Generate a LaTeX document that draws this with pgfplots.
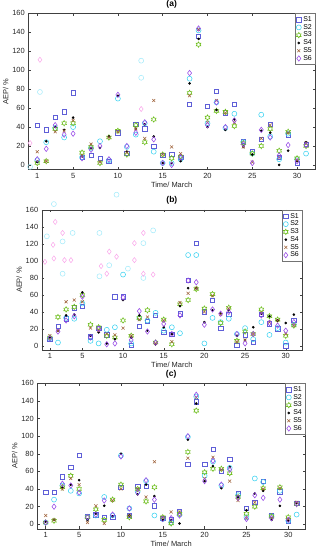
\documentclass[border=0pt]{standalone}
\usepackage{fontspec}
\setmainfont{Liberation Sans}
\usepackage{pgfplots}
\usepackage{pgfplotstable}
\pgfplotsset{compat=1.18}

\definecolor{cS1}{RGB}{95,95,215}
\definecolor{cS2}{RGB}{60,210,240}
\definecolor{cS3}{RGB}{110,190,30}
\definecolor{cS4}{RGB}{0,0,0}
\definecolor{cS5}{RGB}{160,100,60}
\definecolor{cS6}{RGB}{150,70,230}
\definecolor{ghc}{RGB}{165,235,250}
\definecolor{ghp}{RGB}{250,170,235}

\pgfdeclareplotmark{hexagram}{%
 \pgfpathmoveto{\pgfpointpolar{90}{\pgfplotmarksize}}%
 \pgfpathlineto{\pgfpointpolar{120}{0.577\pgfplotmarksize}}%
 \pgfpathlineto{\pgfpointpolar{150}{\pgfplotmarksize}}%
 \pgfpathlineto{\pgfpointpolar{180}{0.577\pgfplotmarksize}}%
 \pgfpathlineto{\pgfpointpolar{210}{\pgfplotmarksize}}%
 \pgfpathlineto{\pgfpointpolar{240}{0.577\pgfplotmarksize}}%
 \pgfpathlineto{\pgfpointpolar{270}{\pgfplotmarksize}}%
 \pgfpathlineto{\pgfpointpolar{300}{0.577\pgfplotmarksize}}%
 \pgfpathlineto{\pgfpointpolar{330}{\pgfplotmarksize}}%
 \pgfpathlineto{\pgfpointpolar{0}{0.577\pgfplotmarksize}}%
 \pgfpathlineto{\pgfpointpolar{30}{\pgfplotmarksize}}%
 \pgfpathlineto{\pgfpointpolar{60}{0.577\pgfplotmarksize}}%
 \pgfpathclose\pgfusepathqstroke}

\pgfplotstableread{
d S1 S2 S3 S4 S5 S6
1 42 5 2 3 14 6
2 37 24 4 25 4 17
3 50 39 38 40 35 42
4 56 29 44 37 36 32
5 76 40 44 50 47 33
6 8 8 13 9 10 7
7 10 18 19 18 22 16
8 7 25 2 18 3 20
9 4 5 29 30 29 6
10 34 70 36 73 35 74
11 12 19 11 14 13 20
12 43 32 42 38 38 34
13 38 44 24 43 28 45
14 20 14 48 30 68 27
15 10 2 11 2 11 2
16 11 2 7 2 19 0
17 8 6 9 4 12 8
18 64 91 76 86 73 97
19 136 142 127 133 143 144
20 62 44 50 40 45 42
21 78 66 57 58 68 66
22 55 39 56 37 55 40
23 64 54 41 48 45 47
24 25 24 23 19 19 22
25 14 12 12 11 3 2
26 27 53 20 36 28 37
27 43 30 38 34 42 29
28 8 6 15 0 8 10
29 32 33 35 15 34 21
30 2 6 7 4 5 4
31 22 12 20 24 23 21
}\tabA

\pgfplotstableread{
d S1 S2 S3 S4 S5 S6
1 8 9 10 10 12 9
2 23 4 34 18 18 17
3 32 33 43 36 52 30
4 45 32 46 37 54 35
5 47 50 60 63 52 58
6 11 6 25 12 21 10
7 21 3 22 16 18 20
8 13 19 12 3 14 2
9 58 22 10 8 13 3
10 58 84 30 54 21 57
11 1 3 12 10 12 7
12 23 33 33 36 31 41
13 29 30 42 18 34 17
14 36 39 4 2 3 4
15 16 18 31 22 30 26
16 14 22 2 14 5 14
17 38 15 49 47 51 36
18 77 107 54 68 62 77
19 121 107 67 68 68 75
20 40 3 44 28 40 25
21 54 33 61 42 59 43
22 21 28 27 38 37 38
23 37 32 45 42 44 40
24 1 14 6 12 5 14
25 13 21 17 7 7 3
26 4 8 14 22 14 14
27 37 28 43 38 39 36
28 26 13 35 35 28 27
29 20 21 31 30 30 24
30 0 4 12 27 14 18
31 30 25 24 37 24 28
}\tabB

\pgfplotstableread{
d S1 S2 S3 S4 S5 S6
1 36 2 2 3 10 2
2 36 28 4 5 5 20
3 54 44 42 42 40 46
4 65 38 55 45 52 44
5 78 35 40 50 45 36
6 9 8 8 5 2 8
7 11 10 17 12 21 11
8 8 31 5 21 1 27
9 8 10 28 9 27 11
10 42 78 45 80 40 77
11 10 18 8 10 10 18
12 43 37 40 34 40 36
13 43 49 26 45 31 50
14 21 10 42 32 71 28
15 7 6 8 5 8 6
16 5 2 1 5 14 7
17 15 11 12 1 14 10
18 68 99 82 96 75 100
19 139 145 129 137 144 147
20 68 55 59 49 52 49
21 85 71 63 66 76 72
22 60 44 63 41 62 45
23 74 64 58 65 49 62
24 35 33 31 31 27 30
25 18 8 12 16 7 6
26 25 52 20 35 25 33
27 49 48 41 38 40 30
28 10 9 9 5 7 7
29 37 38 42 21 41 28
30 4 4 8 4 6 5
31 24 11 23 24 25 23
}\tabC

% faint ghost marks visible in the reference
\pgfplotstableread{
x y
1.3 77
0.2 -2
12.6 110
12.6 92
}\ghostAc
\pgfplotstableread{
x y
1.3 111
0.2 23
12.6 59
}\ghostAp
\pgfplotstableread{
x y
0.63 129
1.5 167
2.57 123
2.57 85
3.8 133
7.1 133
7.1 82
8.3 95
10.6 91
12.5 121
12.5 80
13.7 136
9.2 178
}\ghostBc
\pgfplotstableread{
x y
0.4 99
1.66 146
1.4 119
1.5 103
2.8 101
2.57 133
3.6 101
7.3 94
8.3 111
8.0 85
9.2 105
11.4 121
11.4 101
12.5 133
12.5 85
13.7 84
}\ghostBp

\pgfplotsset{
 sA/.style={only marks, mark=square, mark size=2.2pt, color=cS1, mark options={line width=0.55pt}},
 sB/.style={only marks, mark=o, mark size=2.5pt, color=cS2, mark options={line width=0.55pt}},
 sC/.style={only marks, mark=hexagram, mark size=2.7pt, color=cS3, mark options={line width=0.6pt}},
 sD/.style={only marks, mark=*, mark size=1.1pt, color=cS4},
 sE/.style={only marks, mark=x, mark size=2.1pt, color=cS5, mark options={line width=0.55pt}},
 sF/.style={only marks, mark=diamond, mark size=2.7pt, color=cS6, mark options={line width=0.55pt}},
 gc/.style={only marks, mark=o, mark size=2.5pt, color=ghc, forget plot, mark options={line width=0.55pt}},
 gp/.style={only marks, mark=diamond, mark size=2.6pt, color=ghp, forget plot, mark options={line width=0.55pt}},
 panel/.style={
  scale only axis, anchor=south west,
  xmin=0, xmax=32, ymin=-5, ymax=160,
  xtick={1,5,10,15,20,25,30}, ytick={0,20,...,160},
  tick align=inside, major tick length=2.5pt,
  axis line style={black!75, line width=0.4pt},
  tick style={black!75, line width=0.4pt},
  ticklabel style={font=\fontsize{7.5}{8}\selectfont, text=black!85},
  /pgf/number format/assume math mode=true,
  xlabel={Time/ March}, ylabel={AEP/ \%},
  label style={font=\fontsize{7.5}{8}\selectfont, text=black!85},
  xlabel style={yshift=3.5pt},
  ylabel style={yshift=-3pt},
  title style={font=\bfseries\fontsize{8.5}{9}\selectfont, yshift=-4pt},
  clip=false,
  legend style={at={(1,1)}, anchor=north east, draw=black!55, line width=0.4pt,
    font=\fontsize{7}{8}\selectfont, inner sep=1pt, row sep=-2.6pt,
    cells={anchor=west}},
  legend image code/.code={\draw[mark repeat=2,mark phase=2,##1] plot coordinates {(0bp,0bp)(3.5bp,0bp)(7bp,0bp)};},
 }
}

\newcommand{\series}[1]{%
 \addplot[sA] table[x=d,y=S1] {#1};
 \addplot[sB] table[x=d,y=S2] {#1};
 \addplot[sC] table[x=d,y=S3] {#1};
 \addplot[sD] table[x=d,y=S4] {#1};
 \addplot[sE] table[x=d,y=S5] {#1};
 \addplot[sF] table[x=d,y=S6] {#1};
 \legend{S1,S2,S3,S4,S5,S6}
}

\begin{document}
\begin{tikzpicture}
\useasboundingbox (0,0) rectangle (318bp,550bp);
\begin{axis}[panel, at={(28.3bp,380.3bp)}, width=286.7bp, height=156.4bp, title={(a)}]
 \addplot[gc] table[x=x,y=y] {\ghostAc};
 \addplot[gp] table[x=x,y=y] {\ghostAp};
 \series{\tabA}
\end{axis}
\begin{axis}[panel, at={(41.7bp,199.8bp)}, width=260.3bp, height=140.2bp, title={(b)}]
 \addplot[gc] table[x=x,y=y] {\ghostBc};
 \addplot[gp] table[x=x,y=y] {\ghostBp};
 \series{\tabB}
\end{axis}
\begin{axis}[panel, at={(37.3bp,21.3bp)}, width=267.7bp, height=145.4bp, title={(c)}]
 \series{\tabC}
\end{axis}
\end{tikzpicture}
\end{document}
